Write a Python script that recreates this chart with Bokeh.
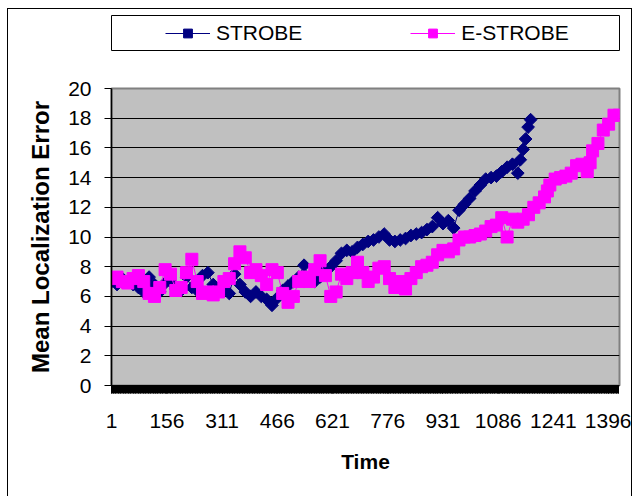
import math
from bokeh.plotting import figure
from bokeh.layouts import column
from bokeh.models import Range1d, FixedTicker, Legend, LegendItem
from bokeh.embed import file_html
from bokeh.resources import INLINE

# ---- data ----
time_strobe = [1, 16, 31, 46, 61, 76, 91, 106, 121, 136,
               151, 166, 181, 196, 211, 226, 241, 256, 271, 286,
               301, 316, 331, 346, 361, 376, 391, 406, 421, 436,
               451, 466, 481, 496, 511, 526, 541, 556, 571, 586,
               601, 616, 631, 646, 661, 676, 691, 706, 721, 736,
               751, 766, 781, 796, 811, 826, 841, 856, 871, 886,
               901, 916, 931, 946, 961, 976, 991, 1006, 1021, 1036,
               1051, 1066, 1081, 1096, 1111, 1126, 1141,
               1148, 1156, 1163, 1170, 1177]
strobe = [7.0, 6.8, 7.2, 7.0, 6.8, 6.6, 6.3, 7.3, 6.8, 6.3,
          6.9, 7.0, 6.5, 6.4, 7.3, 6.6, 6.4, 7.4, 7.6, 6.8,
          6.4, 6.6, 6.2, 7.5, 6.8, 6.3, 6.0, 6.3, 6.0, 5.8,
          5.4, 5.9, 6.4, 6.7, 7.0, 7.3, 8.1, 7.2, 7.0, 7.3,
          7.8, 8.0, 8.4, 8.9, 9.1, 9.0, 9.3, 9.5, 9.7, 9.8,
          10.0, 10.2, 9.8, 9.7, 9.8, 9.9, 10.1, 10.2, 10.3, 10.5,
          10.7, 11.3, 10.9, 11.1, 10.6, 11.8, 12.2, 12.6, 13.1, 13.5,
          13.9, 14.0, 14.1, 14.4, 14.7, 14.9, 14.3,
          15.2, 15.9, 16.6, 17.4, 17.9]

time_estrobe = [1, 16, 31, 46, 61, 76, 91, 106, 121, 136,
                151, 166, 181, 196, 211, 226, 241, 256, 271, 286,
                301, 316, 331, 346, 361, 376, 391, 406, 421, 436,
                451, 466, 481, 496, 511, 526, 541, 556, 571, 586,
                601, 616, 631, 646, 661, 676, 691, 706, 721, 736,
                751, 766, 781, 796, 811, 826, 841, 856, 871, 886,
                901, 916, 931, 946, 961, 976, 991, 1006, 1021, 1036,
                1051, 1066, 1081, 1096, 1111, 1126, 1141, 1156, 1171, 1186,
                1201, 1216, 1224, 1231, 1246, 1261, 1276, 1291, 1306, 1321,
                1336, 1344, 1351, 1366, 1381, 1396, 1411, 1426]
estrobe = [7.2, 7.3, 7.0, 6.9, 7.2, 7.4, 7.0, 6.2, 6.0, 6.6,
           7.8, 7.5, 6.4, 6.6, 7.6, 8.5, 7.0, 6.2, 6.3, 6.1,
           6.3, 7.0, 7.2, 8.2, 9.0, 8.6, 7.6, 7.8, 7.4, 6.8,
           7.8, 7.6, 6.2, 5.6, 6.0, 7.0, 7.3, 7.0, 7.8, 8.4,
           7.4, 6.0, 6.3, 7.5, 7.2, 7.6, 8.3, 7.6, 7.0, 7.3,
           7.9, 8.0, 7.2, 6.6, 7.0, 6.5, 7.2, 7.6, 8.0, 8.1,
           8.3, 8.8, 9.1, 9.0, 9.2, 9.8, 10.0, 10.0, 10.1, 10.2,
           10.4, 10.7, 10.8, 11.3, 10.0, 11.2, 11.0, 11.2, 11.5, 12.0,
           12.3, 12.7, 13.1, 13.5, 13.9, 14.0, 14.1, 14.3, 14.8, 14.9,
           14.4, 15.0, 15.8, 16.3, 17.2, 17.6, 18.2, 18.2]

x_tick_labels = [1, 156, 311, 466, 621, 776, 931, 1086, 1241, 1396]
y_ticks = [0, 2, 4, 6, 8, 10, 12, 14, 16, 18, 20]
n_categories = 1426
series_names = ["STROBE", "E-STROBE"]

FONT = "Liberation Sans"
NAVY = "#000080"
MAGENTA = "#FF00FF"
NAVY_SIZE = 9
MAGENTA_SIZE = 12

# ---------------- legend strip (its frame is the legend box) ----------------
# The series are drawn here too, far outside this strip's ranges, so they only
# serve as legend keys.
lg = figure(width=623, height=60, x_range=Range1d(0, 1), y_range=Range1d(0, 1),
            output_backend="svg", toolbar_location=None,
            x_axis_type=None, y_axis_type=None,
            min_border_left=103, min_border_right=12,
            min_border_top=6, min_border_bottom=19)
lg.xgrid.visible = False
lg.ygrid.visible = False
lg.background_fill_color = "white"
lg.border_fill_color = "white"
lg.outline_line_color = "black"
lg.outline_line_width = 1

k1 = lg.line(time_strobe, strobe, line_color=NAVY, line_width=1)
k2 = lg.scatter(time_strobe, strobe, marker="square", angle=math.pi / 4,
                size=NAVY_SIZE, fill_color=NAVY, line_color=NAVY)
k3 = lg.line(time_estrobe, estrobe, line_color=MAGENTA, line_width=1)
k4 = lg.scatter(time_estrobe, estrobe, marker="square", size=MAGENTA_SIZE,
                fill_color=MAGENTA, line_color=MAGENTA)

legend = Legend(items=[LegendItem(label=series_names[0], renderers=[k1, k2]),
                       LegendItem(label=series_names[1], renderers=[k3, k4])],
                orientation="horizontal", location=(54, 5),
                padding=0, margin=0, spacing=108,
                glyph_width=45, glyph_height=22, label_standoff=6,
                label_height=22,
                border_line_alpha=0, background_fill_alpha=0,
                label_text_font=FONT, label_text_font_size="21px",
                label_text_color="black")
lg.add_layout(legend, "center")

# ---------------- main chart ----------------
p = figure(width=623, height=440,
           x_range=Range1d(0.5, n_categories + 0.5), y_range=Range1d(0, 20),
           output_backend="svg", toolbar_location=None,
           min_border_left=99, min_border_right=10,
           min_border_top=19, min_border_bottom=124)

p.background_fill_color = "#C0C0C0"
p.border_fill_color = "white"
p.outline_line_color = "#808080"
p.outline_line_width = 2

p.xgrid.visible = False
p.ygrid.ticker = FixedTicker(ticks=y_ticks)
p.ygrid.grid_line_color = "black"
p.ygrid.grid_line_width = 1

p.yaxis.ticker = FixedTicker(ticks=y_ticks, minor_ticks=[])
p.yaxis.axis_line_color = "black"
p.yaxis.axis_line_width = 1.5
p.yaxis.major_tick_in = 0
p.yaxis.major_tick_out = 7
p.yaxis.major_tick_line_color = "black"
p.yaxis.major_label_text_font = FONT
p.yaxis.major_label_text_font_size = "21px"
p.yaxis.major_label_text_color = "black"
p.yaxis.major_label_standoff = 13
p.yaxis.axis_label = "Mean Localization Error"
p.yaxis.axis_label_text_font = FONT
p.yaxis.axis_label_text_font_style = "bold"
p.yaxis.axis_label_text_font_size = "24px"
p.yaxis.axis_label_text_color = "black"
p.yaxis.axis_label_standoff = 11

minor = list(range(1, n_categories + 1, 2))
p.xaxis.ticker = FixedTicker(ticks=x_tick_labels, minor_ticks=minor)
p.xaxis.axis_line_color = "black"
p.xaxis.major_tick_in = 0
p.xaxis.major_tick_out = 8
p.xaxis.minor_tick_in = 0
p.xaxis.minor_tick_out = 8
p.xaxis.major_tick_line_color = "black"
p.xaxis.minor_tick_line_color = "black"
p.xaxis.major_label_text_font = FONT
p.xaxis.major_label_text_font_size = "21px"
p.xaxis.major_label_text_color = "black"
p.xaxis.major_label_standoff = 20
p.xaxis.axis_label = "Time"
p.xaxis.axis_label_text_font = FONT
p.xaxis.axis_label_text_font_style = "bold"
p.xaxis.axis_label_text_font_size = "21px"
p.xaxis.axis_label_text_color = "black"
p.xaxis.axis_label_standoff = 19

p.line(time_strobe, strobe, line_color=NAVY, line_width=1)
p.scatter(time_strobe, strobe, marker="square", angle=math.pi / 4,
          size=NAVY_SIZE, fill_color=NAVY, line_color=NAVY)
p.line(time_estrobe, estrobe, line_color=MAGENTA, line_width=1)
p.scatter(time_estrobe, estrobe, marker="square", size=MAGENTA_SIZE,
          fill_color=MAGENTA, line_color=MAGENTA)

layout = column(lg, p, spacing=0, margin=(8, 0, 0, 7),
                styles={"border": "1px solid black", "background": "white"})

open("out.html", "w").write(file_html(layout, INLINE))
